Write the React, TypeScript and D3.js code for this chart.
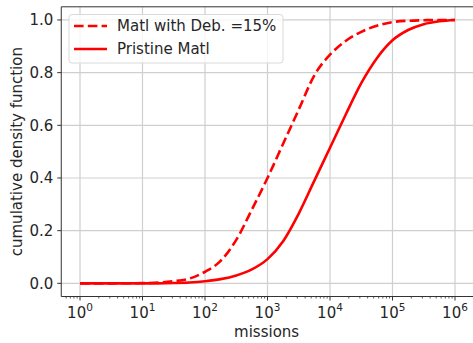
import React from "react";
import * as d3 from "d3";

// Sample points along the mission axis, as powers of ten
const missionExponents = [0, 0.5, 1, 1.25, 1.5, 1.75, 2, 2.25, 2.5, 2.75, 3, 3.25, 3.5, 3.75, 4, 4.25, 4.5, 4.75, 5, 5.25, 5.5, 5.75, 6];

// CDF of material with 15% debit
const debitCdf = [0, 0, 0.001, 0.003, 0.008, 0.018, 0.044, 0.085, 0.165, 0.28, 0.4, 0.53, 0.66, 0.79, 0.868, 0.92, 0.955, 0.978, 0.992, 0.997, 0.999, 1.0, 1.0];

// CDF of pristine material
const pristineCdf = [0, 0, 0, 0, 0.001, 0.003, 0.008, 0.016, 0.03, 0.053, 0.092, 0.16, 0.265, 0.39, 0.515, 0.64, 0.76, 0.855, 0.923, 0.962, 0.984, 0.995, 1.0];

const yTicks = [0, 0.2, 0.4, 0.6, 0.8, 1.0];
const xTickExponents = [0, 1, 2, 3, 4, 5, 6];

const seriesLabels = ["Matl with Deb. =15%", "Pristine Matl"];

const W = 473;
const H = 343;
const FONT = "DejaVu Sans, sans-serif";
const RED = "#ff0000";
const TEXT = "#262626";
const FS = 15;

export default function App() {
  const x = d3.scaleLog().domain([Math.pow(10, -0.3), Math.pow(10, 6.3)]).range([61.25, 473.75]);
  const y = d3.scaleLinear().domain([-0.05, 1.05]).range([296.5, 6.8]);

  const [x0, x1] = x.range();
  const [yb, yt] = y.range();

  const missions = missionExponents.map((e) => Math.pow(10, e));
  const line = d3
    .line<number>()
    .x((_, i) => x(missions[i]))
    .y((d) => y(d))
    .curve(d3.curveMonotoneX);

  // minor ticks (2..9 within each decade)
  const minorTicks: number[] = [];
  for (let e = -1; e <= 6; e++) {
    for (let m = 2; m <= 9; m++) {
      const v = m * Math.pow(10, e);
      if (v >= x.domain()[0] && v <= x.domain()[1]) minorTicks.push(v);
    }
  }

  return (
    <svg
      width={W}
      height={H}
      style={{ position: "absolute", left: 0, top: 0, background: "#fff" }}
      fontFamily={FONT}
    >
      <rect x={0} y={0} width={W} height={H} fill="#fff" />
      {/* grid */}
      <g stroke="#cfcfcf" strokeWidth={1.2}>
        {xTickExponents.map((e) => (
          <line key={"gx" + e} x1={x(Math.pow(10, e))} x2={x(Math.pow(10, e))} y1={yt} y2={yb} />
        ))}
        {yTicks.map((t) => (
          <line key={"gy" + t} x1={x0} x2={x1} y1={y(t)} y2={y(t)} />
        ))}
      </g>

      {/* curves */}
      <path d={line(pristineCdf) || ""} fill="none" stroke={RED} strokeWidth={2.6} strokeLinejoin="round" />
      <path d={line(debitCdf) || ""} fill="none" stroke={RED} strokeWidth={2.6} strokeDasharray="9.6,4.2" />

      {/* spines */}
      <g stroke="#333" strokeWidth={1}>
        <line x1={x0} x2={x0} y1={yt} y2={yb} />
        <line x1={x0} x2={x1} y1={yb} y2={yb} />
        <line x1={x0} x2={x1} y1={yt} y2={yt} />
        <line x1={x1} x2={x1} y1={yt} y2={yb} />
      </g>

      {/* y ticks */}
      <g>
        {yTicks.map((t) => (
          <g key={"yt" + t}>
            <line x1={x0 - 4} x2={x0} y1={y(t)} y2={y(t)} stroke="#333" strokeWidth={1} />
            <text x={x0 - 8} y={y(t)} dy="0.36em" textAnchor="end" fontSize={FS} fill={TEXT}>
              {t.toFixed(1)}
            </text>
          </g>
        ))}
      </g>

      {/* x ticks */}
      <g>
        {minorTicks.map((v, i) => (
          <line key={"mt" + i} x1={x(v)} x2={x(v)} y1={yb} y2={yb + 2} stroke="#333" strokeWidth={0.8} />
        ))}
        {xTickExponents.map((e) => (
          <g key={"xt" + e}>
            <line x1={x(Math.pow(10, e))} x2={x(Math.pow(10, e))} y1={yb} y2={yb + 4} stroke="#333" strokeWidth={1} />
            <text x={x(Math.pow(10, e))} y={yb + 21} textAnchor="middle" fontSize={FS} fill={TEXT}>
              10
              <tspan dy={-6.5} fontSize={10.5}>
                {e}
              </tspan>
            </text>
          </g>
        ))}
      </g>

      {/* axis labels */}
      <text x={(x0 + 472) / 2} y={337} textAnchor="middle" fontSize={FS} fill={TEXT}>
        missions
      </text>
      <text
        transform={`translate(22,${(yt + yb) / 2}) rotate(-90)`}
        textAnchor="middle"
        fontSize={FS}
        fill={TEXT}
      >
        cumulative density function
      </text>

      {/* legend */}
      <g>
        <rect x={69} y={14.5} width={214} height={48.5} rx={3} fill="#fff" fillOpacity={0.8} stroke="#d9d9d9" strokeWidth={1} />
        <line x1={74} x2={107} y1={26} y2={26} stroke={RED} strokeWidth={2.6} strokeDasharray="9.6,4.2" />
        <line x1={74} x2={107} y1={49} y2={49} stroke={RED} strokeWidth={2.6} />
        <text x={117} y={26} dy="0.36em" fontSize={FS} fill={TEXT}>
          {seriesLabels[0]}
        </text>
        <text x={117} y={49} dy="0.36em" fontSize={FS} fill={TEXT}>
          {seriesLabels[1]}
        </text>
      </g>
    </svg>
  );
}
